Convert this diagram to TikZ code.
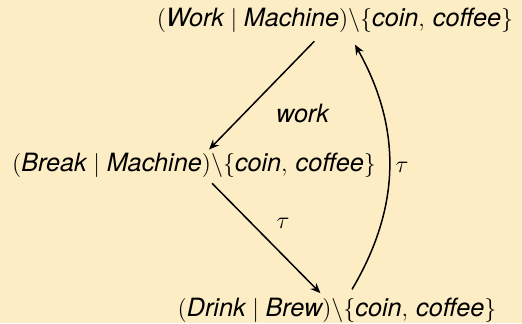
\documentclass[tikz,border=0pt]{standalone}
\usepackage{amsmath, amssymb}
\usepackage{fontspec}
\setmainfont{TeX Gyre Heros}
\usepackage{xcolor}
\definecolor{SlideBg}{HTML}{FDEDC4}
\usetikzlibrary{arrows.meta}

\begin{document}
\begin{tikzpicture}[x=0.5pt, y=-0.5pt]
\tikzset{
  proc/.style={inner sep=0pt, font=\fontsize{12.6}{15}\selectfont},
  trans/.style={-{Stealth[length=5pt, width=4.2pt, inset=1.6pt]}, line width=0.75pt},
  lbl/.style={font=\fontsize{12.6}{15}\selectfont},
}
  \fill[SlideBg] (0,0) rectangle (522,323);
  \useasboundingbox (0,0) rectangle (522,323);

  % processes
  \node[proc] (work)  at (335, 20)  {$(\textit{Work} \mid \textit{Machine})\backslash\{\textit{coin},\,\textit{coffee}\}$};
  \node[proc] (break) at (194, 165) {$(\textit{Break} \mid \textit{Machine})\backslash\{\textit{coin},\,\textit{coffee}\}$};
  \node[proc] (drink) at (337, 310) {$(\textit{Drink} \mid \textit{Brew})\backslash\{\textit{coin},\,\textit{coffee}\}$};

  % transitions
  \draw[trans, shorten <=6pt, shorten >=2pt] (work) -- (break);
  \draw[trans, shorten <=4pt, shorten >=3pt] (break) -- (drink);
  \draw[trans] ([xshift=7.5pt, yshift=4pt]drink.north) to[bend right=30] ([xshift=10pt, yshift=-6pt]work.south);

  % labels
  \node[lbl] (lwork) at (303, 113) {\textit{work}};
  \node[lbl] (ltau1) at (283, 223) {$\tau$};
  \node[lbl] (ltau2) at (402, 167) {$\tau$};
\end{tikzpicture}
\end{document}
